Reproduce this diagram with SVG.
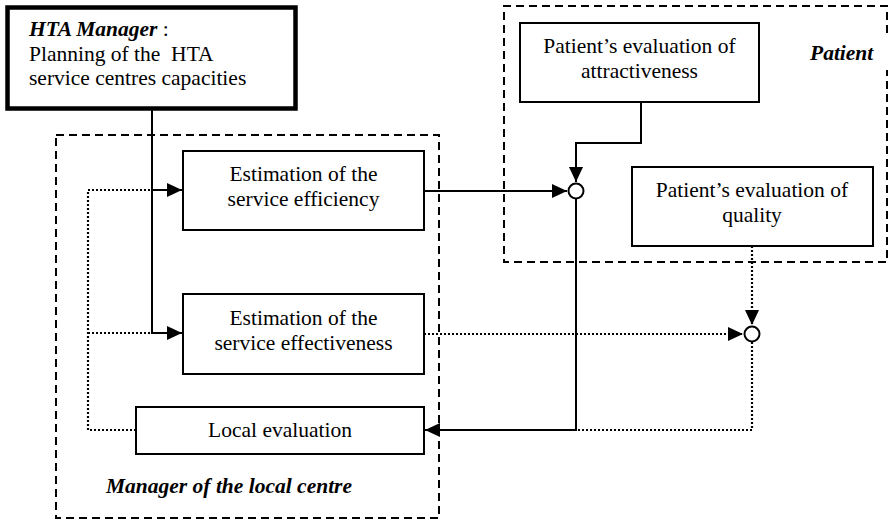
<svg xmlns="http://www.w3.org/2000/svg" width="888" height="522" viewBox="0 0 888 522">
<style>
text{font-family:"Liberation Serif","Times New Roman",serif;font-size:21.5px;fill:#000}
.c{text-anchor:middle}
.bi{font-weight:bold;font-style:italic}
.box{fill:#fff;stroke:#000;stroke-width:2}
.grp{fill:none;stroke:#000;stroke-width:2;stroke-dasharray:8,5}
.s{fill:none;stroke:#000;stroke-width:2}
.d{fill:none;stroke:#000;stroke-width:2.2;stroke-dasharray:2,2}
.j{fill:#fff;stroke:#000;stroke-width:2}
</style>
<defs>
<marker id="ah" markerUnits="userSpaceOnUse" markerWidth="16" markerHeight="14" refX="15" refY="7" orient="auto">
<path d="M0,0 L15,7 L0,14 Z" fill="#000"/>
</marker>
</defs>
<g id="group-manager">
<rect class="grp" x="56" y="135" width="383" height="383"/>
<text class="bi" x="106" y="493">Manager of the local centre</text>
</g>
<g id="group-patient">
<path class="grp" d="M887,33 L887,6 L504,6 L504,262 L887,262 L887,70"/>
<text class="bi" x="810" y="60">Patient</text>
</g>
<g id="connectors">
<path class="s" d="M152,110 L152,333 L182,333" marker-end="url(#ah)"/>
<path class="s" d="M152,190 L182,190" marker-end="url(#ah)"/>
<path class="d" d="M136,430 L88,430 L88,190 L152,190"/>
<path class="d" d="M88,333 L152,333"/>
<path class="s" d="M424,191 L567,191" marker-end="url(#ah)"/>
<path class="s" d="M641,102 L641,143 L576,143 L576,182" marker-end="url(#ah)"/>
<path class="d" d="M424,334 L743,334" marker-end="url(#ah)"/>
<path class="d" d="M752,246 L752,325" marker-end="url(#ah)"/>
<path class="d" d="M752,342 L752,430 L576,430"/>
<path class="s" d="M576,199 L576,430 L425,430" marker-end="url(#ah)"/>
</g>
<g id="hta-manager">
<rect x="7.5" y="7.5" width="288" height="101" fill="#fff" stroke="#000" stroke-width="4.5"/>
<text x="29" y="36"><tspan class="bi">HTA Manager</tspan> :</text>
<text x="29" y="61" xml:space="preserve">Planning of the  HTA</text>
<text x="29" y="85">service centres capacities</text>
</g>
<g id="efficiency">
<rect class="box" x="183" y="151" width="241" height="79"/>
<text class="c" x="303.5" y="181">Estimation of the</text>
<text class="c" x="303.5" y="206">service efficiency</text>
</g>
<g id="effectiveness">
<rect class="box" x="183" y="294" width="241" height="80"/>
<text class="c" x="303.5" y="325">Estimation of the</text>
<text class="c" x="303.5" y="350">service effectiveness</text>
</g>
<g id="local-evaluation">
<rect class="box" x="136" y="407" width="288" height="47"/>
<text class="c" x="280" y="437">Local evaluation</text>
</g>
<g id="attractiveness">
<rect class="box" x="520" y="23" width="239" height="79"/>
<text class="c" x="639.5" y="53">Patient’s evaluation of</text>
<text class="c" x="639.5" y="78">attractiveness</text>
</g>
<g id="quality">
<rect class="box" x="632" y="167" width="241" height="79"/>
<text class="c" x="752" y="197">Patient’s evaluation of</text>
<text class="c" x="752" y="222">quality</text>
</g>
<g id="junction-1">
<circle class="j" cx="576" cy="191" r="7.5"/>
</g>
<g id="junction-2">
<circle class="j" cx="752" cy="334" r="7.5"/>
</g>
</svg>
